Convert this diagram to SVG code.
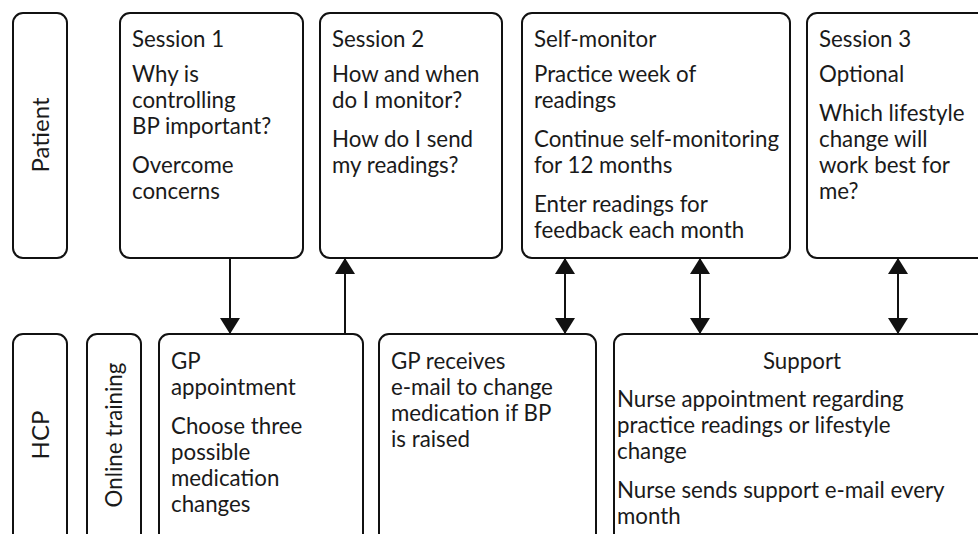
<svg xmlns="http://www.w3.org/2000/svg" width="978" height="534" viewBox="0 0 978 534">
<defs>
<style>
.box{fill:#fff;stroke:#111;stroke-width:2}
.t{font-family:Lato,"Noto Sans","Liberation Sans",sans-serif;font-size:22.3px;fill:#1a1a1a}
.lane{font-family:Lato,"Noto Sans","Liberation Sans",sans-serif;font-size:24px;fill:#1a1a1a;text-anchor:middle}
.c{text-anchor:middle}
.ln{stroke:#111;stroke-width:2;fill:none}
</style>
<marker id="ah" viewBox="0 0 16 20" refX="15" refY="10" markerWidth="16" markerHeight="20" markerUnits="userSpaceOnUse" orient="auto-start-reverse">
<path d="M0,0 L16,10 L0,20 Z" fill="#111"/>
</marker>
</defs>
<rect width="978" height="534" fill="#fff"/>
<g id="lane-patient">
<rect class="box" x="13" y="13" width="54" height="245" rx="10"/>
<text class="lane" transform="translate(49,135) rotate(-90)">Patient</text>
</g>
<g id="session1">
<rect class="box" x="120" y="13" width="183" height="245" rx="10"/>
<text class="t" x="132" y="47">Session 1</text>
<text class="t" x="132" y="82">Why is</text>
<text class="t" x="132" y="108">controlling</text>
<text class="t" x="132" y="134">BP important?</text>
<text class="t" x="132" y="173">Overcome</text>
<text class="t" x="132" y="199">concerns</text>
</g>
<g id="session2">
<rect class="box" x="320" y="13" width="182" height="245" rx="10"/>
<text class="t" x="332" y="47">Session 2</text>
<text class="t" x="332" y="82">How and when</text>
<text class="t" x="332" y="108">do I monitor?</text>
<text class="t" x="332" y="147">How do I send</text>
<text class="t" x="332" y="173">my readings?</text>
</g>
<g id="selfmonitor">
<rect class="box" x="522" y="13" width="268" height="245" rx="10"/>
<text class="t" x="534" y="47">Self-monitor</text>
<text class="t" x="534" y="82">Practice week of</text>
<text class="t" x="534" y="108">readings</text>
<text class="t" x="534" y="147">Continue self-monitoring</text>
<text class="t" x="534" y="173">for 12 months</text>
<text class="t" x="534" y="212">Enter readings for</text>
<text class="t" x="534" y="238">feedback each month</text>
</g>
<g id="session3">
<rect class="box" x="807" y="13" width="190" height="245" rx="10"/>
<text class="t" x="819" y="47">Session 3</text>
<text class="t" x="819" y="82">Optional</text>
<text class="t" x="819" y="121">Which lifestyle</text>
<text class="t" x="819" y="147">change will</text>
<text class="t" x="819" y="173">work best for</text>
<text class="t" x="819" y="199">me?</text>
</g>
<g id="lane-hcp">
<rect class="box" x="13" y="334" width="54" height="210" rx="10"/>
<text class="lane" transform="translate(49,435) rotate(-90)">HCP</text>
</g>
<g id="online-training">
<rect class="box" x="87" y="334" width="54" height="210" rx="10"/>
<text class="t c" transform="translate(122,435) rotate(-90)">Online training</text>
</g>
<g id="gp-appointment">
<rect class="box" x="159" y="334" width="204" height="210" rx="10"/>
<text class="t" x="171" y="369">GP</text>
<text class="t" x="171" y="395">appointment</text>
<text class="t" x="171" y="434">Choose three</text>
<text class="t" x="171" y="460">possible</text>
<text class="t" x="171" y="486">medication</text>
<text class="t" x="171" y="512">changes</text>
</g>
<g id="gp-receives">
<rect class="box" x="379" y="334" width="217" height="210" rx="10"/>
<text class="t" x="391" y="369">GP receives</text>
<text class="t" x="391" y="395">e-mail to change</text>
<text class="t" x="391" y="421">medication if BP</text>
<text class="t" x="391" y="447">is raised</text>
</g>
<g id="support">
<rect class="box" x="614" y="334" width="376" height="210" rx="10"/>
<text class="t c" x="802" y="369">Support</text>
<text class="t" x="617" y="407">Nurse appointment regarding</text>
<text class="t" x="617" y="433">practice readings or lifestyle</text>
<text class="t" x="617" y="459">change</text>
<text class="t" x="617" y="498">Nurse sends support e-mail every</text>
<text class="t" x="617" y="524">month</text>
</g>
<g id="connectors">
<line class="ln" x1="230" y1="258" x2="230" y2="333" marker-end="url(#ah)"/>
<line class="ln" x1="345" y1="334" x2="345" y2="259" marker-end="url(#ah)"/>
<line class="ln" x1="565" y1="259" x2="565" y2="333" marker-start="url(#ah)" marker-end="url(#ah)"/>
<line class="ln" x1="700" y1="259" x2="700" y2="333" marker-start="url(#ah)" marker-end="url(#ah)"/>
<line class="ln" x1="898" y1="259" x2="898" y2="333" marker-start="url(#ah)" marker-end="url(#ah)"/>
</g>
</svg>
